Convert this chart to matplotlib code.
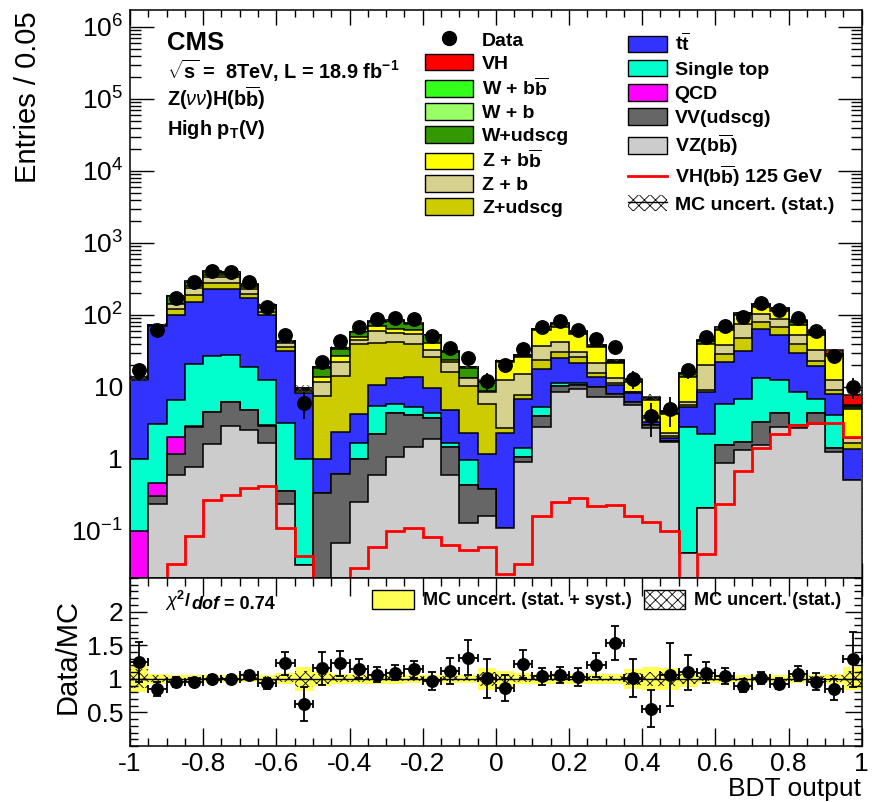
import matplotlib

matplotlib.use("Agg")
import matplotlib.pyplot as plt
import numpy as np
from matplotlib.lines import Line2D
from matplotlib.patches import Patch
from matplotlib.ticker import FixedLocator, FuncFormatter, MultipleLocator, LogLocator, NullFormatter

plt.rcParams["font.family"] = ["Liberation Sans", "DejaVu Sans"]
plt.rcParams["mathtext.fontset"] = "custom"
plt.rcParams["mathtext.rm"] = "Liberation Sans"
plt.rcParams["mathtext.it"] = "Liberation Sans:italic"
plt.rcParams["mathtext.bf"] = "Liberation Sans:bold"
plt.rcParams["hatch.linewidth"] = 0.6

# BDT output, 40 bins of 0.05 between -1 and 1
X_MIN, X_MAX, N_BINS = -1.0, 1.0, 40

DATA = [17, 62, 174, 283, 407, 389, 283, 130, 53, 6,
        22, 43, 67, 87, 92, 87, 51, 35, 25, 12,
        20, 34, 67, 82, 62, 46, 36, 13, 4, 5,
        17, 49, 70, 95, 145, 117, 92, 59, 27, 10]

VZ_BB = [0, 0.24, 0.6, 0.77, 1.6, 2.9, 2.5, 1.65, 0.24, 0.034,
         0.01, 0.069, 0.255, 0.59, 1.05, 1.48, 1.9, 0.6, 0.128, 0.16,
         0.11, 0.92, 2.8, 8.6, 9.3, 7.3, 7.3, 5.6, 2.67, 1.74,
         0.049, 0.21, 0.87, 1.33, 1.56, 2.8, 2.7, 3.1, 1.26, 0.51]
VV_UDSCG = [0, 0.07, 0.57, 2.0, 2.9, 3.3, 2.3, 1.25, 0.12, 0,
            0.33, 0.55, 0.745, 1.6, 3.35, 2.6, 1.77, 0.88, 0.307, 0.22,
            0, 0.16, 1.1, 1.6, 1.3, 2.7, 0.7, 0.65, 0.3, 0.06,
            0, 0, 0.69, 0.37, 1.74, 1.5, 0.3, 1.2, 0.14, 0]
QCD = [0.1, 0.15, 0.87, 0.1, 0.05, 0.05, 0.05, 0.05, 0, 0,
       0, 0, 0, 0, 0, 0, 0, 0, 0, 0,
       0, 0, 0, 0, 0, 0, 0, 0, 0, 0,
       0, 0, 0, 0, 0, 0, 0, 0, 0, 0]
SINGLE_TOP = [0.9, 2.6, 4.5, 17.7, 22, 21.6, 14.2, 9.6, 2.8, 0.966,
              0, 0, 0.69, 3.3, 1.35, 1.22, 0.63, 0.17, 0.535, 0,
              0, 0.32, 1.4, 1.0, 0.9, 0, 0, 0, 0, 0,
              2.75, 2.0, 4.2, 5.0, 9.9, 8.2, 5.6, 2.4, 2.7, 0]
TTBAR = [11.5, 67, 93.5, 132, 201, 200, 155, 87.5, 28, 7.2,
         0.66, 1.78, 2.5, 5.1, 7.45, 8.6, 5.3, 3.15, 1.3, 0.79,
         2.16, 5.3, 12.3, 13.8, 9.8, 3.9, 2.6, 1.95, 0.33, 0.15,
         2.5, 6.4, 16.6, 24.9, 49.8, 40.1, 21.4, 12.9, 3.9, 0.85]
Z_UDSCG = [0.3, 1, 20, 37, 54, 50, 20, 10, 5, 0.5,
           6.5, 11.6, 35, 30, 29.4, 25.7, 16.2, 11.5, 8.0, 4.6,
           0.43, 1.0, 6.1, 6, 5, 1.9, 0.9, 0.2, 0.4, 0.15,
           0.3, 0.5, 6.4, 15.8, 17, 16.4, 9.6, 3.6, 1.1, 0.3]
Z_B = [0.4, 1, 21, 50, 58, 55, 34, 15, 4, 0.5,
       4.4, 8.5, 6, 20, 13.4, 15, 6.8, 6.1, 2.9, 2.8,
       9.8, 7.4, 13.8, 11.6, 4.7, 5.9, 1.7, 0.2, 0.3, 0.2,
       0.65, 10.9, 9.2, 27.6, 23, 18, 13, 9.4, 3.2, 0.28]
Z_BB = [0.2, 0.3, 2, 15, 25, 25, 15, 6, 1.5, 0.2,
        2.0, 4.5, 4, 10, 7.8, 7.4, 7.8, 1.3, 0.2, 0.2,
        10, 10.7, 25, 26.4, 24, 14, 8.1, 3.0, 2.6, 1.9,
        7.65, 20, 24, 25, 27, 26, 20, 20, 15, 3.06]
W_UDSCG = [0.1, 0.5, 38, 30, 30, 20, 15, 5, 1, 0.1,
           4.5, 7.0, 8, 10, 19, 12.5, 11.6, 7, 5.2, 2.8,
           0.3, 1.5, 1.0, 6, 3.6, 1.3, 1.2, 0.6, 0.3, 0.2,
           1.0, 3, 3, 3, 8, 7, 7, 4, 1, 0.2]
W_B = [0.05, 0.1, 1, 6, 6, 6, 5, 1.5, 0.2, 0.02,
       0.3, 0.5, 0.5, 0.7, 0.8, 0.8, 0.5, 0.3, 0.2, 0.15,
       0.15, 0.3, 0.4, 1, 0.7, 0.5, 0.4, 0.2, 0.1, 0.1,
       0.3, 1, 1, 1, 2, 2, 1.5, 1, 0.3, 0.3]
W_BB = [0.05, 0.1, 1, 6, 6, 5, 4, 1.5, 0.2, 0.02,
        0.3, 0.5, 0.5, 0.7, 0.8, 0.8, 0.5, 0.3, 0.2, 0.15,
        0.15, 0.3, 0.4, 1, 0.7, 0.5, 0.4, 0.2, 0.1, 0.1,
        0.3, 1, 1, 1, 2, 2, 1.5, 1, 0.3, 0.2]
# VH(bb) 125 GeV signal, used both stacked and as a line
VH_SIGNAL = [0, 0, 0.035, 0.085, 0.27, 0.32, 0.39, 0.42, 0.11, 0.045,
             0.015, 0.015, 0.031, 0.06, 0.1, 0.11, 0.083, 0.063, 0.055, 0.059,
             0.025, 0.035, 0.16, 0.255, 0.284, 0.225, 0.23, 0.16, 0.132, 0.1,
             0.015, 0.048, 0.24, 0.68, 1.4, 2.2, 3.0, 3.2, 3.2, 2.04]

# relative MC uncertainties (half widths)
UNC_STAT_SYST = [0.2, 0.07, 0.05, 0.05, 0.05, 0.05, 0.05, 0.06, 0.08, 0.18,
                 0.1, 0.07, 0.07, 0.07, 0.07, 0.06, 0.06, 0.06, 0.06, 0.16,
                 0.12, 0.08, 0.07, 0.07, 0.07, 0.07, 0.07, 0.15, 0.17, 0.16,
                 0.12, 0.06, 0.06, 0.05, 0.05, 0.05, 0.06, 0.06, 0.07, 0.17]
UNC_STAT = [0.14, 0.05, 0.03, 0.03, 0.03, 0.03, 0.03, 0.04, 0.05, 0.12,
            0.07, 0.05, 0.05, 0.04, 0.04, 0.04, 0.04, 0.04, 0.04, 0.1,
            0.07, 0.05, 0.04, 0.04, 0.04, 0.04, 0.04, 0.09, 0.1, 0.1,
            0.07, 0.04, 0.04, 0.03, 0.03, 0.03, 0.04, 0.04, 0.05, 0.11]
CHI2_DOF = 0.74

# stack from bottom to top
STACK = [
    ("VZ(b$\\overline{\\mathbf{b}}$)", VZ_BB, "#cccccc"),
    ("VV(udscg)", VV_UDSCG, "#666666"),
    ("QCD", QCD, "#ff00ff"),
    ("Single top", SINGLE_TOP, "#00ffcc"),
    ("t$\\overline{\\mathbf{t}}$", TTBAR, "#3333ff"),
    ("Z+udscg", Z_UDSCG, "#cccc00"),
    ("Z + b", Z_B, "#d6d28e"),
    ("Z + b$\\overline{\\mathbf{b}}$", Z_BB, "#ffff00"),
    ("W+udscg", W_UDSCG, "#339900"),
    ("W + b", W_B, "#99ff66"),
    ("W + b$\\overline{\\mathbf{b}}$", W_BB, "#33ff1a"),
    ("VH", VH_SIGNAL, "#ff0000"),
]

FLOOR = 1e-3
W, H = 874, 802
TICK_FS = 19
TITLE_FS = 21
edges = np.linspace(X_MIN, X_MAX, N_BINS + 1)
centers = 0.5 * (edges[:-1] + edges[1:])
half_w = 0.5 * (edges[1] - edges[0])

fig = plt.figure(figsize=(W / 100, H / 100), dpi=100)
ax = fig.add_axes([130 / W, 1 - 578 / H, 731.7 / W, 568 / H])
rax = fig.add_axes([130 / W, 1 - 746 / H, 731.7 / W, 168 / H])

# ---- main stacked histogram ----
yields = np.array([s[1] for s in STACK], dtype=float)
cum = np.cumsum(yields, axis=0)
for k in reversed(range(len(STACK))):
    ax.stairs(np.maximum(cum[k], FLOOR), edges, baseline=FLOOR, fill=True,
              facecolor=STACK[k][2], edgecolor="black", linewidth=1.1, zorder=2)

total = cum[-1]
stat = np.array(UNC_STAT)
ax.stairs(total * (1 + stat), edges, baseline=total * (1 - stat), fill=True,
          facecolor="none", edgecolor="0.25", hatch="xxx", linewidth=0, zorder=3)

sig = np.maximum(np.array(VH_SIGNAL), FLOOR)
ax.stairs(sig, edges, baseline=FLOOR, fill=False, color="red", linewidth=2.0, zorder=4)

data = np.array(DATA, dtype=float)
ax.errorbar(centers, data, yerr=np.sqrt(data), fmt="o", color="black",
            markersize=9.7, elinewidth=1.3, capsize=0, zorder=5)

ax.set_xlim(X_MIN, X_MAX)
ax.set_yscale("log")
ax.set_ylim(0.0222, 1.72e6)


def log_label(v, pos):
    if abs(v - 1) < 1e-9:
        return "1"
    if abs(v - 10) < 1e-9:
        return "10"
    return "$10^{%d}$" % int(round(np.log10(v)))


ax.yaxis.set_major_locator(FixedLocator([1e-1, 1, 10, 1e2, 1e3, 1e4, 1e5, 1e6]))
ax.yaxis.set_major_formatter(FuncFormatter(log_label))
ax.yaxis.set_minor_locator(LogLocator(base=10, subs=np.arange(2, 10), numticks=30))
ax.yaxis.set_minor_formatter(NullFormatter())
ax.xaxis.set_major_locator(MultipleLocator(0.2))
ax.xaxis.set_minor_locator(MultipleLocator(0.05))
ax.tick_params(which="both", direction="in", top=True, right=True,
               labelbottom=False, labelsize=TICK_FS, width=1.0)
ax.tick_params(axis="y", which="major", length=17.5, pad=5)
ax.tick_params(axis="y", which="minor", length=8)
ax.tick_params(axis="x", which="major", length=11)
ax.tick_params(axis="x", which="minor", length=5)
for sp in ax.spines.values():
    sp.set_linewidth(1.1)

# ---- labels ----
fig.text(28 / W, 1 - 11 / H, "Entries / 0.05", rotation=90, ha="center", va="top", fontsize=TITLE_FS)
fig.text(167 / W, 1 - 50 / H, "CMS", fontsize=18.5, fontweight="bold", va="baseline")
fig.text(167 / W, 1 - 79 / H, "$\\sqrt{\\mathbf{s}}$ =  8TeV, L = 18.9 fb$^{\\mathbf{-1}}$",
         fontsize=14.3, fontweight="bold", va="baseline")
fig.text(167 / W, 1 - 106.5 / H, "Z($\\nu\\nu$)H(b$\\overline{\\mathbf{b}}$)",
         fontsize=14.3, fontweight="bold", va="baseline")
fig.text(167 / W, 1 - 135 / H, "High p$_{\\mathbf{T}}$(V)",
         fontsize=14.3, fontweight="bold", va="baseline")

# ---- legends ----
def box(color):
    return Patch(facecolor=color, edgecolor="black", linewidth=1.0)


colors = {s[0]: s[2] for s in STACK}
left_labels = ["Data", "VH", STACK[10][0], STACK[9][0], STACK[8][0],
               STACK[7][0], STACK[6][0], STACK[5][0]]
left_handles = [Line2D([], [], marker="o", color="black", ls="none", markersize=10)]
left_handles += [box(colors[lab]) for lab in left_labels[1:]]
leg1 = ax.legend(left_handles, left_labels, loc="upper left",
                 bbox_to_anchor=((425 - 130) / 731.7, (578 - 31) / 568),
                 frameon=False, prop={"weight": "bold", "size": 14},
                 handlelength=2.47, handleheight=0.93, handletextpad=0.46,
                 labelspacing=0.2, borderpad=0, borderaxespad=0)
ax.add_artist(leg1)

right_labels = [STACK[4][0], STACK[3][0], STACK[2][0], STACK[1][0], STACK[0][0],
                "VH(b$\\overline{\\mathbf{b}}$) 125 GeV", "MC uncert. (stat.)"]
right_handles = [box(colors[lab]) for lab in right_labels[:5]]
right_handles.append(Line2D([], [], color="red", linewidth=2))
right_handles.append((Patch(facecolor="white", edgecolor="black", hatch="xxx", linewidth=0),
                      Line2D([], [], color="black", linewidth=1)))
ax.legend(right_handles, right_labels, loc="upper left",
          bbox_to_anchor=((628 - 130) / 731.7, (578 - 32) / 568),
          frameon=False, prop={"weight": "bold", "size": 14},
          handlelength=2.0, handleheight=0.93, handletextpad=0.4,
          labelspacing=0.27, borderpad=0, borderaxespad=0)

# ---- ratio panel ----
syst = np.array(UNC_STAT_SYST)
rax.stairs(1 + syst, edges, baseline=1 - syst, fill=True, facecolor="#ffff55",
           edgecolor="none", linewidth=0, zorder=1)
rax.stairs(1 + stat, edges, baseline=1 - stat, fill=True, facecolor="none",
           edgecolor="black", hatch="xxx", linewidth=0, zorder=2)
rax.axhline(1.0, color="black", linewidth=1.0, zorder=2)

ratio = data / total
ratio_err = np.sqrt(data) / total
rax.errorbar(centers, ratio, xerr=half_w, yerr=ratio_err, fmt="o", color="black",
             markersize=8.3, elinewidth=1.3, capsize=3, capthick=1.3, zorder=5)

rax.set_xlim(X_MIN, X_MAX)
rax.set_ylim(0, 2.5)
rax.yaxis.set_major_locator(FixedLocator([0.5, 1.0, 1.5, 2.0]))
rax.yaxis.set_major_formatter(FuncFormatter(lambda v, p: "%g" % v))
rax.yaxis.set_minor_locator(MultipleLocator(0.1))
rax.xaxis.set_major_locator(MultipleLocator(0.2))
rax.xaxis.set_minor_locator(MultipleLocator(0.05))
rax.xaxis.set_major_formatter(FuncFormatter(lambda v, p: "%g" % round(v, 2)))
rax.tick_params(which="both", direction="in", top=True, right=True, labelsize=TICK_FS, width=1.0)
rax.tick_params(axis="y", which="major", length=12.5, pad=5)
rax.tick_params(axis="y", which="minor", length=6)
rax.tick_params(axis="x", which="major", length=13, pad=4)
rax.tick_params(axis="x", which="minor", length=6)
for sp in rax.spines.values():
    sp.set_linewidth(1.1)

fig.text(68 / W, 1 - 657 / H, "Data/MC", rotation=90, ha="center", va="center", fontsize=TITLE_FS)
fig.text(861 / W, 1 - 789 / H, "BDT output", ha="right", va="center", fontsize=19)

t1 = rax.text((165 - 130) / 731.7, (746 - 607) / 168, "$\\chi^{\\mathbf{2}}$/ ",
              transform=rax.transAxes, fontsize=13, fontweight="bold", va="baseline")
t2 = rax.annotate("dof", xy=(1, 0), xycoords=t1, va="bottom", fontsize=13,
                  fontweight="bold", fontstyle="italic")
rax.annotate(" = %.2f" % CHI2_DOF, xy=(1, 0), xycoords=t2, va="bottom", fontsize=13,
             fontweight="bold")

rleg_handles = [Patch(facecolor="#ffff55", edgecolor="black", linewidth=1.0),
                Patch(facecolor="white", edgecolor="black", hatch="xxx", linewidth=1.0)]
rax.legend(rleg_handles, ["MC uncert. (stat. + syst.)", "MC uncert. (stat.)"],
           loc="upper left", ncol=2,
           bbox_to_anchor=((372 - 130) / 731.7, (746 - 590) / 168),
           frameon=False, prop={"weight": "bold", "size": 13},
           handlelength=2.3, handleheight=1.2, handletextpad=0.5,
           columnspacing=0.7, borderpad=0, borderaxespad=0)

fig.savefig("out.png", dpi=100)
